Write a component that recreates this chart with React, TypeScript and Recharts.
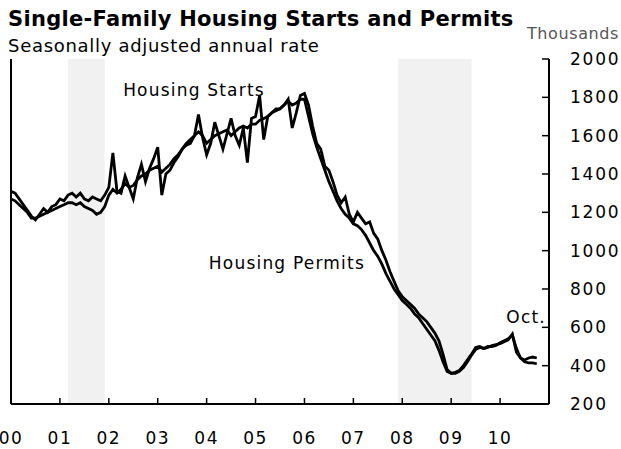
import { ComposedChart, Line, XAxis, YAxis, ReferenceArea, ReferenceDot } from "recharts";

// monthly, Jan 2000 .. Oct 2010, thousands (SAAR)
const starts = [
  1310, 1300, 1270, 1240, 1210, 1180, 1160, 1190, 1220, 1200, 1230, 1240,
  1270, 1260, 1290, 1300, 1280, 1300, 1270, 1260, 1280, 1270, 1260, 1290,
  1330, 1510, 1310, 1300, 1390, 1330, 1270, 1380, 1450, 1360, 1430, 1480,
  1540, 1290, 1400, 1420, 1460, 1490, 1530, 1550, 1560, 1600, 1710, 1590,
  1500, 1560, 1670, 1600, 1530, 1610, 1690, 1600, 1550, 1640, 1460, 1690,
  1700, 1810, 1580, 1700, 1720, 1730, 1740, 1760, 1790, 1640, 1720, 1810,
  1820, 1760, 1650, 1560, 1530, 1440, 1420, 1360, 1290, 1250, 1280, 1190,
  1150, 1200, 1170, 1140, 1150, 1090, 1060, 1000, 950, 890, 840, 790,
  760, 740, 720, 700, 670, 650, 630, 600, 570, 530, 460, 380,
  360, 365, 375, 400, 430, 460, 495, 500, 490, 495, 505, 510,
  515, 525, 535, 565, 470, 440, 430, 440, 445, 440,
];

const permits = [
  1270, 1260, 1240, 1220, 1200, 1170, 1170, 1180, 1190, 1200, 1210, 1220,
  1230, 1240, 1250, 1250, 1240, 1250, 1230, 1220, 1210, 1190, 1200, 1230,
  1290, 1320, 1300, 1320, 1350, 1330, 1340, 1370, 1390, 1400, 1420, 1430,
  1440, 1410, 1430, 1450, 1480, 1500, 1530, 1560, 1580, 1600, 1620, 1600,
  1560, 1580, 1600, 1610, 1620, 1630, 1600, 1620, 1640, 1650, 1640, 1660,
  1660, 1680, 1690, 1700, 1720, 1740, 1740, 1760, 1780, 1760, 1770, 1790,
  1790, 1700, 1610, 1540, 1480, 1420, 1360, 1310, 1260, 1220, 1190, 1170,
  1140, 1130, 1110, 1080, 1040, 1000, 970, 930, 880, 840, 800, 770,
  740, 720, 700, 670, 650, 620, 590, 560, 530, 480, 420, 370,
  360, 360, 370, 390, 420, 455, 485, 495, 490, 500, 500, 505,
  520, 530, 540, 560, 490, 440, 420, 415, 415, 410,
];

const yearLabels = ["00", "01", "02", "03", "04", "05", "06", "07", "08", "09", "10"];
const yTicks = [200, 400, 600, 800, 1000, 1200, 1400, 1600, 1800, 2000];
// recessions as month index from Jan 2000
const recessions = [
  [14, 23],
  [95, 113],
];

const data = starts.map((s, i) => ({ m: i, starts: s, permits: permits[i] }));
const xTicks = yearLabels.map((_, i) => i * 12);

const FONT = "DejaVu Sans, Verdana, sans-serif";

const XTick = ({ x, y, payload }: any) => (
  <g>
    <line x1={x} x2={x} y1={y} y2={y - 6} stroke="#000" strokeWidth={1.5} />
    <text x={x} y={y + 34} textAnchor="middle" dominantBaseline="central" fontSize={17} letterSpacing={1.5} fontFamily={FONT} fill="#000">
      {yearLabels[Math.round(payload.value / 12)]}
    </text>
  </g>
);

const RightTick = ({ x, y, payload }: any) => (
  <g>
    <line x1={x - 7} x2={x} y1={y} y2={y} stroke="#000" strokeWidth={1.5} />
    <text x={x + 21} y={y} textAnchor="start" dominantBaseline="central" fontSize={17} letterSpacing={1.8} fontFamily={FONT} fill="#000">
      {payload.value}
    </text>
  </g>
);

const LeftTick = ({ x, y }: any) => (
  <line x1={x} x2={x + 6} y1={y} y2={y} stroke="#000" strokeWidth={1.5} />
);

const noteLabel = (value: string) => ({
  value,
  position: "center" as const,
  fill: "#000",
  fontSize: 17,
  letterSpacing: 1.2,
  fontFamily: FONT,
});

export default function App() {
  return (
    <div style={{ position: "absolute", left: 0, top: 0, width: 621, height: 449, background: "#fff", fontFamily: FONT, overflow: "hidden" }}>
      <div style={{ position: "absolute", left: 8, top: 7, fontSize: 21, lineHeight: 1.164, letterSpacing: 0.3, fontWeight: "bold", whiteSpace: "nowrap" }}>
        Single-Family Housing Starts and Permits
      </div>
      <div style={{ position: "absolute", left: 8, top: 36, fontSize: 18, lineHeight: 1.164, letterSpacing: 0.7, whiteSpace: "nowrap" }}>
        Seasonally adjusted annual rate
      </div>
      <div style={{ position: "absolute", left: 527, top: 24, fontSize: 16, letterSpacing: 0.6, color: "#555", whiteSpace: "nowrap" }}>
        Thousands
      </div>
      <ComposedChart width={621} height={449} data={data} margin={{ top: 59, right: 0, bottom: 0, left: 0 }}>
        {recessions.map(([a, b], i) => (
          <ReferenceArea key={i} x1={a} x2={b} yAxisId="r" fill="#f1f1f1" fillOpacity={1} stroke="none" />
        ))}
        <XAxis
          dataKey="m"
          type="number"
          domain={[0, 132]}
          ticks={xTicks}
          interval={0}
          height={45}
          tickSize={0}
          tickMargin={0}
          tick={<XTick />}
          axisLine={{ stroke: "#000", strokeWidth: 2 }}
        />
        <YAxis
          yAxisId="l"
          orientation="left"
          width={11}
          domain={[200, 2000]}
          ticks={yTicks}
          interval={0}
          tickSize={0}
          tickMargin={0}
          tick={<LeftTick />}
          axisLine={{ stroke: "#000", strokeWidth: 2 }}
        />
        <YAxis
          yAxisId="r"
          orientation="right"
          width={72}
          domain={[200, 2000]}
          ticks={yTicks}
          interval={0}
          tickSize={0}
          tickMargin={0}
          tick={<RightTick />}
          axisLine={{ stroke: "#000", strokeWidth: 2 }}
        />
        <Line yAxisId="r" type="linear" dataKey="permits" stroke="#000" strokeWidth={2.8} dot={false} isAnimationActive={false} />
        <Line yAxisId="r" type="linear" dataKey="starts" stroke="#000" strokeWidth={2.8} dot={false} isAnimationActive={false} />
        <ReferenceDot yAxisId="r" x={44.9} y={1838} r={0} fill="none" stroke="none" ifOverflow="visible" label={noteLabel("Housing Starts")} />
        <ReferenceDot yAxisId="r" x={67.7} y={935} r={0} fill="none" stroke="none" ifOverflow="visible" label={noteLabel("Housing Permits")} />
        <ReferenceDot yAxisId="r" x={126.4} y={654} r={0} fill="none" stroke="none" ifOverflow="visible" label={noteLabel("Oct.")} />
      </ComposedChart>
    </div>
  );
}
